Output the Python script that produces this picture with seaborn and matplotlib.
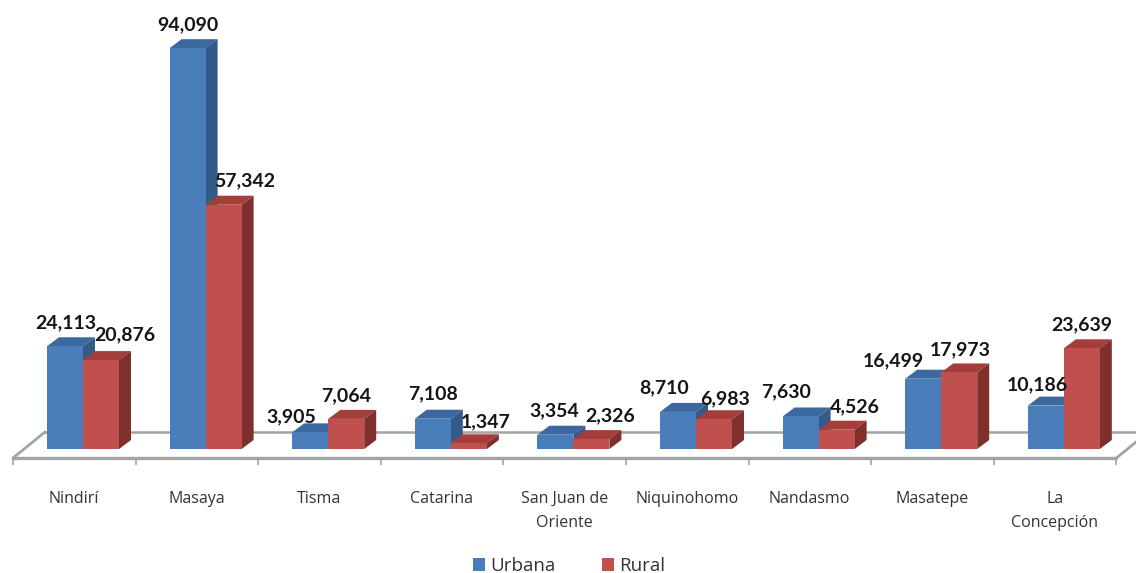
import matplotlib
matplotlib.use('Agg')
import matplotlib.pyplot as plt
from matplotlib.patches import Polygon
import pandas as pd
import seaborn as sns

municipios = ["Nindirí", "Masaya", "Tisma", "Catarina", "San Juan de\nOriente",
              "Niquinohomo", "Nandasmo", "Masatepe", "La\nConcepción"]
urbana = [24113, 94090, 3905, 7108, 3354, 8710, 7630, 16499, 10186]
rural = [20876, 57342, 7064, 1347, 2326, 6983, 4526, 17973, 23639]

# label nudges in pixels (x, up) relative to the top centre of each bar
nudge_urbana = [(1, 24), (0, 23), (-19, 16), (0, 25), (-1, 24), (-14, 24), (-15, 25), (-30, 18), (-8, 21)]
nudge_rural = [(24, 25), (21, 24), (0, 23), (17, 22), (19, 23), (11, 21), (18, 23), (1, 23), (0, 24)]

sns.set_theme(style="white")
plt.rcParams['font.family'] = ['Open Sans', 'DejaVu Sans']

W, H = 1136, 573
BASE = 449          # pixel row of the bar bases
PX_X = 122.6        # pixels per category
PX_Y = 0.00426      # pixels per person
C0 = 83             # pixel column of the first group centre

df = pd.DataFrame({
    "municipio": municipios * 2,
    "poblacion": urbana + rural,
    "zona": ["Urbana"] * len(urbana) + ["Rural"] * len(rural),
})

fig = plt.figure(figsize=(W / 100, H / 100), dpi=100)
ax = fig.add_axes([0, (H - BASE) / H, 1, BASE / H])
sns.barplot(data=df, x="municipio", y="poblacion", hue="zona", ax=ax, width=36 * 2 / PX_X,
            gap=0, palette={"Urbana": "#4a7ebb", "Rural": "#c0504d"}, saturation=1, linewidth=0)
ax.set_xlim(-C0 / PX_X, (W - C0) / PX_X)
ax.set_ylim(0, BASE / PX_Y)
ax.set_xlabel("")
ax.set_ylabel("")
ax.set_yticks([])
sns.despine(ax=ax, left=True, bottom=True)

# fake 3d: top and side faces pushed back from each bar
dx, dy = 12 / PX_X, 9 / PX_Y
shades = [("#3b689f", "#345a8a"), ("#a53e3a", "#7f2f2c")]
for k, cont in enumerate(ax.containers):
    top_col, side_col = shades[k]
    for bar in cont:
        x0, x1, h = bar.get_x(), bar.get_x() + bar.get_width(), bar.get_height()
        z = 2 + 2 * k
        bar.set_zorder(z + 1)
        ax.add_patch(Polygon([(x0, h), (x1, h), (x1 + dx, h + dy), (x0 + dx, h + dy)],
                             closed=True, fc=top_col, ec="none", zorder=z, clip_on=False))
        ax.add_patch(Polygon([(x1, 0), (x1, h), (x1 + dx, h + dy), (x1 + dx, dy)],
                             closed=True, fc=side_col, ec="none", zorder=z, clip_on=False))

# value labels
for cont, vals, nudges in zip(ax.containers, [urbana, rural], [nudge_urbana, nudge_rural]):
    for bar, v, (nx, ny) in zip(cont, vals, nudges):
        ax.annotate(f"{v:,}", (bar.get_x() + bar.get_width() / 2, v), xytext=(nx, ny),
                    textcoords="offset pixels", ha="center", va="center", fontsize=14,
                    fontweight="bold", family="Lato", color="#151515", zorder=10,
                    annotation_clip=False)

# floor of the 3d chart
n = len(municipios)
fx0 = -70 / PX_X
front = -9 / PX_Y
back = 17 / PX_Y
grey = "#a3a3a3"
ax.plot([fx0, fx0 + n], [front, front], color=grey, lw=2.4, clip_on=False, zorder=1)
ax.plot([fx0 + 32 / PX_X, fx0 + n + 32 / PX_X], [back, back], color=grey, lw=1.8, clip_on=True, zorder=1)
ax.plot([fx0, fx0 + 32 / PX_X], [front, back], color=grey, lw=2, clip_on=False, zorder=1)
ax.plot([fx0 + n, fx0 + n + 32 / PX_X], [front, back], color=grey, lw=2, clip_on=False, zorder=1)
ax.vlines([fx0 + i for i in range(n + 1)], front, -16 / PX_Y, color=grey, lw=1.2, clip_on=False, zorder=1)

ax.set_xticks([i - 0.075 for i in range(n)], municipios)
ax.tick_params(axis="x", length=0, pad=30, labelsize=11.5, labelcolor="#333333")
for t in ax.get_xticklabels():
    t.set_linespacing(1.7)

sns.move_legend(ax, "center", bbox_to_anchor=(569 / W, (H - 566) / H), bbox_transform=fig.transFigure,
                ncol=2, frameon=False, title=None, fontsize=13.5, handlelength=0.65, handleheight=0.65,
                columnspacing=2.5, handletextpad=0.25, labelcolor="#333333")

fig.savefig("out.png", dpi=100)
